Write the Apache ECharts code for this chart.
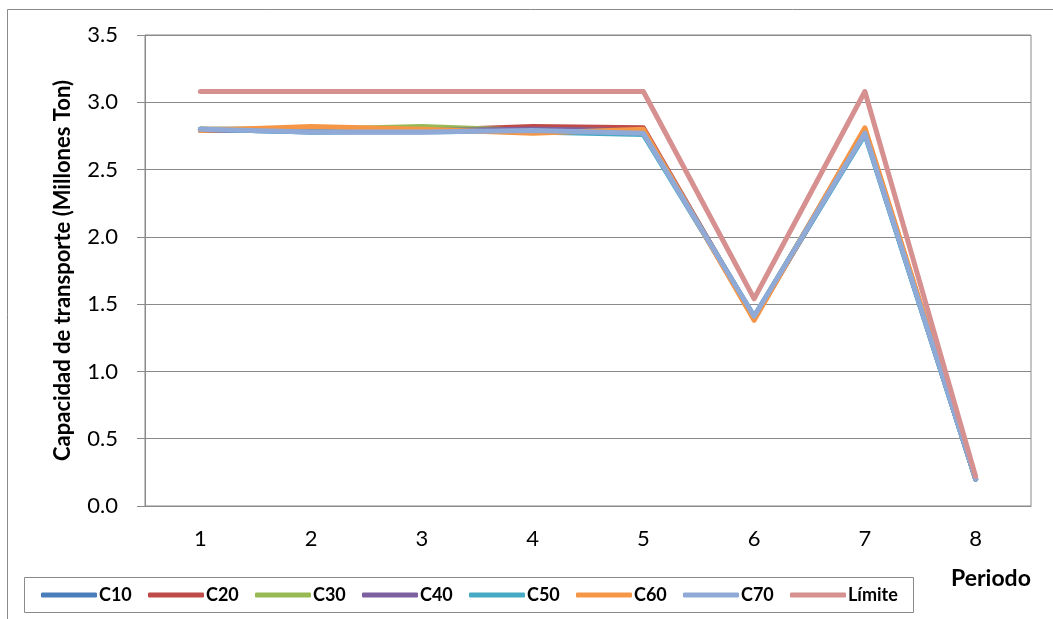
<!DOCTYPE html>
<html>
<head>
<meta charset="utf-8">
<script src="https://cdn.jsdelivr.net/npm/echarts@6/dist/echarts.min.js"></script>
<style>html,body{margin:0;padding:0;background:#fff}#c{width:1053px;height:619px}</style>
</head>
<body>
<div id="c"></div>
<script>
const periods = ['1','2','3','4','5','6','7','8'];
const seriesNames = ['C10','C20','C30','C40','C50','C60','C70','Límite'];
const C10 = [2.80, 2.78, 2.78, 2.79, 2.78, 1.40, 2.77, 0.20];
const C20 = [2.80, 2.80, 2.79, 2.82, 2.81, 1.39, 2.80, 0.20];
const C30 = [2.80, 2.80, 2.82, 2.79, 2.79, 1.40, 2.79, 0.20];
const C40 = [2.79, 2.79, 2.79, 2.80, 2.79, 1.40, 2.78, 0.20];
const C50 = [2.80, 2.78, 2.79, 2.78, 2.76, 1.41, 2.76, 0.20];
const C60 = [2.79, 2.82, 2.80, 2.77, 2.80, 1.38, 2.81, 0.21];
const C70 = [2.80, 2.78, 2.78, 2.79, 2.77, 1.41, 2.77, 0.20];
const Limite = [3.08, 3.08, 3.08, 3.08, 3.08, 1.54, 3.08, 0.22];
const yTicks = { min: 0, max: 3.5, interval: 0.5 };

const allData = [C10, C20, C30, C40, C50, C60, C70, Limite];
const colors = ['#4A7EBB','#BE4B48','#98B954','#7D60A0','#46AAC5','#F59646','#8FAAD6','#D69090'];
const FONT = 'Lato';

const series = seriesNames.map((n, i) => ({
  name: n, type: 'line', data: allData[i], symbol: 'none',
  lineStyle: { color: colors[i], width: 5, cap: 'round', join: 'round' },
  itemStyle: { color: colors[i] },
  animation: false, z: 2 + i
}));

const legends = seriesNames.map((n, i) => ({
  data: [{ name: n, icon: 'roundRect' }],
  left: 41 + 107 * i, top: 586, padding: 0,
  itemWidth: 56, itemHeight: 5, itemGap: 0,
  selectedMode: false,
  textStyle: { fontFamily: FONT, fontWeight: 'bold', fontSize: 18, color: '#000', padding: [0,0,0,-3] }
}));

const chart = echarts.init(document.getElementById('c'), null, { renderer: 'canvas' });
chart.setOption({
  backgroundColor: '#fff',
  color: colors,
  animation: false,
  grid: { left: 145, right: 22, top: 35, bottom: 113, show: true, borderColor: '#8a8a8a', borderWidth: 1 },
  legend: legends,
  xAxis: {
    type: 'category', data: periods, boundaryGap: true,
    axisLine: { show: true, lineStyle: { color: '#8a8a8a', width: 1 } },
    axisTick: { show: false },
    axisLabel: { fontFamily: FONT, fontSize: 22, color: '#000', margin: 22 }
  },
  yAxis: {
    type: 'value', min: yTicks.min, max: yTicks.max, interval: yTicks.interval,
    name: 'Capacidad de transporte (Millones Ton)',
    nameLocation: 'middle', nameGap: 71, nameRotate: 90,
    nameTextStyle: { fontFamily: FONT, fontWeight: 'bold', fontSize: 22, color: '#000' },
    axisLine: { show: true, lineStyle: { color: '#8a8a8a', width: 1 } },
    axisTick: { show: true, length: 8, lineStyle: { color: '#8a8a8a' } },
    axisLabel: { fontFamily: FONT, fontSize: 22, color: '#000', margin: 27, formatter: v => v.toFixed(1) },
    splitLine: { show: true, lineStyle: { color: '#8a8a8a', width: 1 } }
  },
  graphic: [
    { type: 'rect', shape: { x: 7.5, y: 9.5, width: 1100, height: 700 }, style: { fill: null, stroke: '#8a8a8a', lineWidth: 1 }, z: -10, silent: true },
    { type: 'rect', shape: { x: 24.5, y: 577.5, width: 889, height: 35 }, style: { fill: '#fff', stroke: '#8a8a8a', lineWidth: 1 }, z: -5, silent: true },
    { type: 'text', left: 951, top: 567, style: { text: 'Periodo', fontFamily: FONT, fontWeight: 'bold', fontSize: 23, fill: '#000' } }
  ],
  series: series
});
</script>
</body>
</html>
